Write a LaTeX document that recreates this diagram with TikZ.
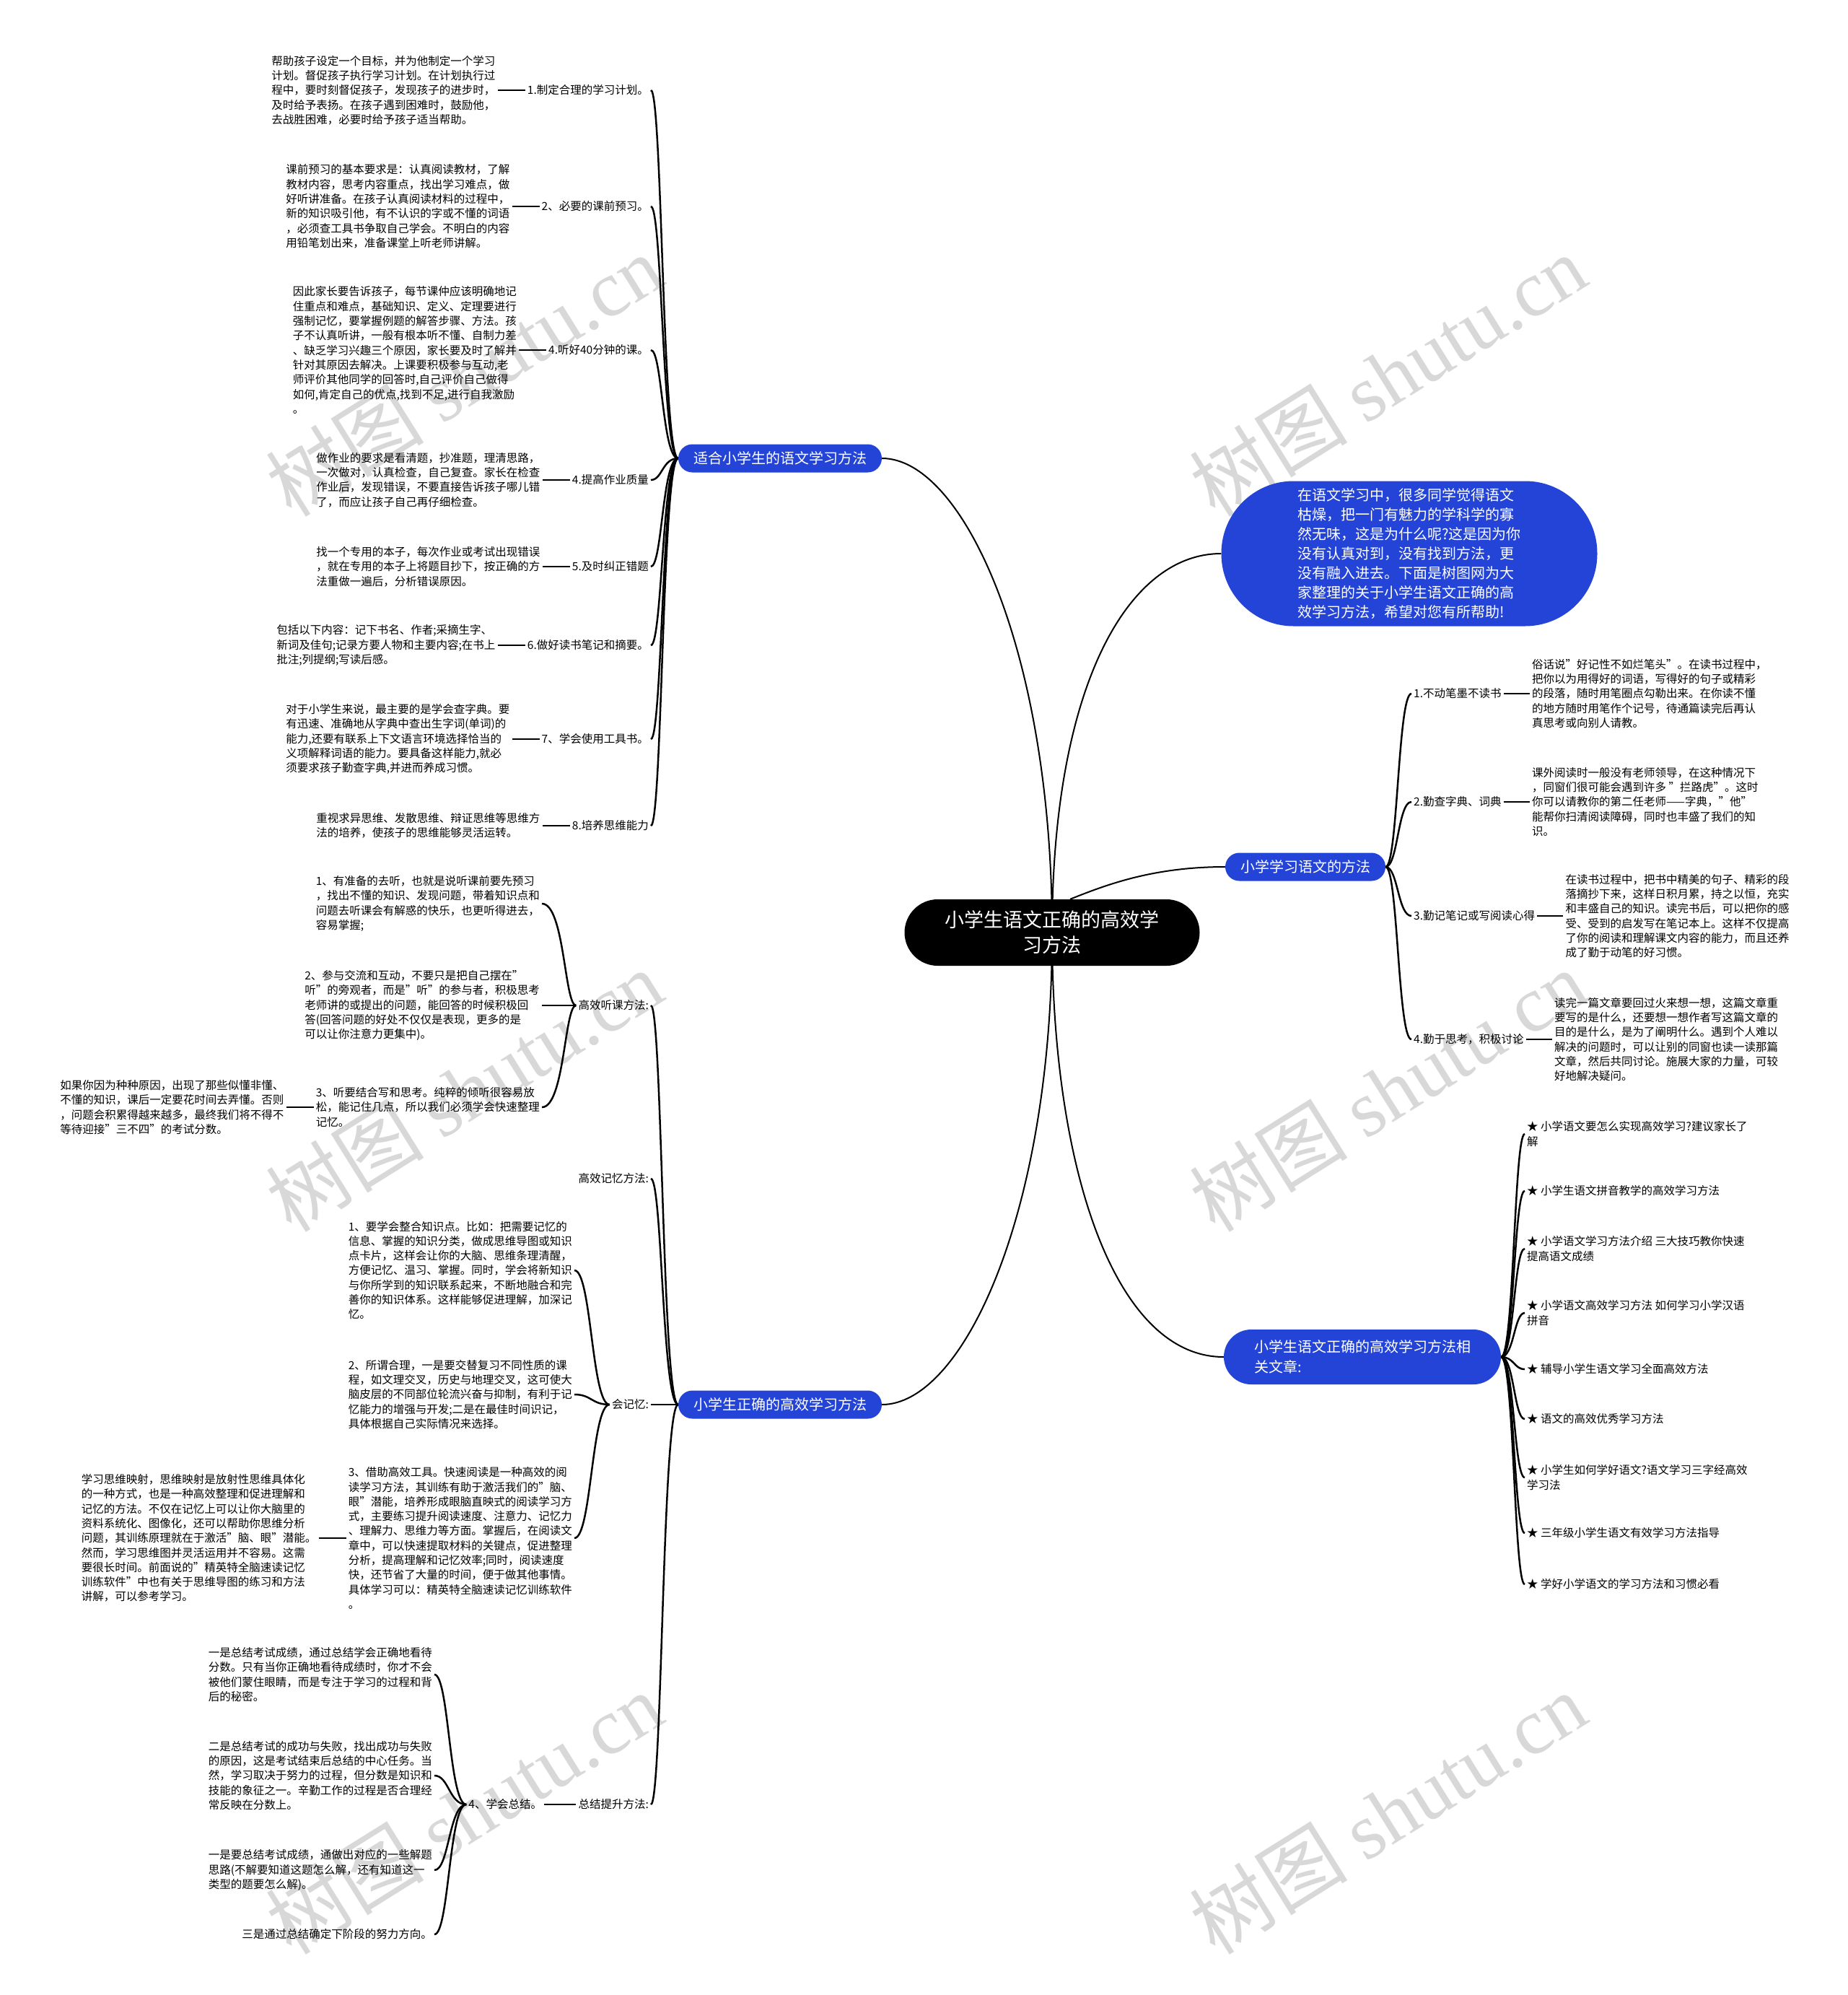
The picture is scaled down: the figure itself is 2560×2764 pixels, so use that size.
\documentclass[tikz,border=0pt]{standalone}
\usepackage{fontspec}
\setmainfont{Noto Sans CJK SC}
\newfontfamily\wmserif{Liberation Serif}
\usetikzlibrary{positioning,backgrounds,calc}
\definecolor{mapblue}{RGB}{36,68,216}
\definecolor{wmgray}{RGB}{216,216,216}
\tikzset{
  desc/.style={align=left,inner sep=3pt,font=\fontsize{15.5}{20.3}\selectfont},
  lbl/.style={inner sep=3pt,font=\fontsize{15.5}{20.3}\selectfont},
  branch/.style={fill=mapblue,text=white,rounded corners=19.5pt,minimum height=39pt,inner xsep=21pt,font=\fontsize{20}{26}\selectfont},
  root/.style={fill=black,text=white,rounded corners=46pt,minimum width=409pt,minimum height=92pt,align=center,font=\fontsize{27}{35}\selectfont},
  intro/.style={fill=mapblue,text=white,rounded corners=100pt,minimum width=521pt,minimum height=201pt,align=left,font=\fontsize{20}{27}\selectfont},
  conn/.style={line width=2.5pt},
  rootln/.style={line width=2pt},
  tie/.style={line width=2.5pt},
  wm/.style={text=wmgray,rotate=32,font=\fontsize{110}{120}\selectfont},
}
\begin{document}
\begin{tikzpicture}[x=1pt,y=-1pt]
\useasboundingbox (0,0) rectangle (2560,2764);

% centre et branches
\node[root] (root) at (1458,1292) {小学生语文正确的高效学\\习方法};
\node[branch] (l1) at (1081,635) {适合小学生的语文学习方法};
\node[branch] (l2) at (1081,1946) {小学生正确的高效学习方法};
\node[intro] (intro) at (1953,767) {在语文学习中，很多同学觉得语文\\枯燥，把一门有魅力的学科学的寡\\然无味，这是为什么呢?这是因为你\\没有认真对到，没有找到方法，更\\没有融入进去。下面是树图网为大\\家整理的关于小学生语文正确的高\\效学习方法，希望对您有所帮助!};
\node[branch] (r1) at (1809,1201) {小学学习语文的方法};
\node[branch,align=left,rounded corners=38pt,minimum width=384pt,minimum height=76pt,font=\fontsize{20}{28}\selectfont] (r2) at (1888,1880) {小学生语文正确的高效学习方法相\\关文章:};

% branche l1
\node[lbl,anchor=east] (t1) at (902,125) {1.制定合理的学习计划。};
\node[desc,left=38pt of t1] (d1) {帮助孩子设定一个目标，并为他制定一个学习\\计划。督促孩子执行学习计划。在计划执行过\\程中，要时刻督促孩子，发现孩子的进步时，\\及时给予表扬。在孩子遇到困难时，鼓励他，\\去战胜困难，必要时给予孩子适当帮助。};
\node[lbl,anchor=east] (t2) at (902,286) {2、必要的课前预习。};
\node[desc,left=38pt of t2] (d2) {课前预习的基本要求是：认真阅读教材，了解\\教材内容，思考内容重点，找出学习难点，做\\好听讲准备。在孩子认真阅读材料的过程中，\\新的知识吸引他，有不认识的字或不懂的词语\\，必须查工具书争取自己学会。不明白的内容\\用铅笔划出来，准备课堂上听老师讲解。};
\node[lbl,anchor=east] (t3) at (902,485) {4.听好40分钟的课。};
\node[desc,left=38pt of t3] (d3) {因此家长要告诉孩子，每节课仲应该明确地记\\住重点和难点，基础知识、定义、定理要进行\\强制记忆，要掌握例题的解答步骤、方法。孩\\子不认真听讲，一般有根本听不懂、自制力差\\、缺乏学习兴趣三个原因，家长要及时了解并\\针对其原因去解决。上课要积极参与互动,老\\师评价其他同学的回答时,自己评价自己做得\\如何,肯定自己的优点,找到不足,进行自我激励\\。};
\node[lbl,anchor=east] (t4) at (902,665) {4.提高作业质量};
\node[desc,left=38pt of t4] (d4) {做作业的要求是看清题，抄准题，理清思路，\\一次做对，认真检查，自己复查。家长在检查\\作业后，发现错误，不要直接告诉孩子哪儿错\\了，而应让孩子自己再仔细检查。};
\node[lbl,anchor=east] (t5) at (902,785) {5.及时纠正错题};
\node[desc,left=38pt of t5] (d5) {找一个专用的本子，每次作业或考试出现错误\\，就在专用的本子上将题目抄下，按正确的方\\法重做一遍后，分析错误原因。};
\node[lbl,anchor=east] (t6) at (902,894) {6.做好读书笔记和摘要。};
\node[desc,left=38pt of t6] (d6) {包括以下内容：记下书名、作者;采摘生字、\\新词及佳句;记录方要人物和主要内容;在书上\\批注;列提纲;写读后感。};
\node[lbl,anchor=east] (t7) at (902,1024) {7、学会使用工具书。};
\node[desc,left=38pt of t7] (d7) {对于小学生来说，最主要的是学会查字典。要\\有迅速、准确地从字典中查出生字词(单词)的\\能力,还要有联系上下文语言环境选择恰当的\\义项解释词语的能力。要具备这样能力,就必\\须要求孩子勤查字典,并进而养成习惯。};
\node[lbl,anchor=east] (t8) at (902,1144) {8.培养思维能力};
\node[desc,left=38pt of t8] (d8) {重视求异思维、发散思维、辩证思维等思维方\\法的培养，使孩子的思维能够灵活运转。};

% branche l2
\node[lbl,anchor=east] (h1) at (902,1393) {高效听课方法:};
\node[lbl,anchor=east] (h2) at (902,1633) {高效记忆方法:};
\node[lbl,anchor=east] (h3) at (902,1946) {会记忆:};
\node[lbl,anchor=east] (h4) at (902,2500) {总结提升方法:};
\node[desc,anchor=east] (a1) at (751,1252) {1、有准备的去听，也就是说听课前要先预习\\，找出不懂的知识、发现问题，带着知识点和\\问题去听课会有解惑的快乐，也更听得进去，\\容易掌握;};
\node[desc,anchor=east] (a2) at (751,1393) {2、参与交流和互动，不要只是把自己摆在"\\听"的旁观者，而是"听"的参与者，积极思考\\老师讲的或提出的问题，能回答的时候积极回\\答(回答问题的好处不仅仅是表现，更多的是\\可以让你注意力更集中)。};
\node[desc,anchor=east] (a3) at (751,1534) {3、听要结合写和思考。纯粹的倾听很容易放\\松，能记住几点，所以我们必须学会快速整理\\记忆。};
\node[desc,left=38pt of a3] (a4) {如果你因为种种原因，出现了那些似懂非懂、\\不懂的知识，课后一定要花时间去弄懂。否则\\，问题会积累得越来越多，最终我们将不得不\\等待迎接"三不四"的考试分数。};
\node[desc,anchor=east] (m1) at (796,1760) {1、要学会整合知识点。比如：把需要记忆的\\信息、掌握的知识分类，做成思维导图或知识\\点卡片，这样会让你的大脑、思维条理清醒，\\方便记忆、温习、掌握。同时，学会将新知识\\与你所学到的知识联系起来，不断地融合和完\\善你的知识体系。这样能够促进理解，加深记\\忆。};
\node[desc,anchor=east] (m2) at (796,1932) {2、所谓合理，一是要交替复习不同性质的课\\程，如文理交叉，历史与地理交叉，这可使大\\脑皮层的不同部位轮流兴奋与抑制，有利于记\\忆能力的增强与开发;二是在最佳时间识记，\\具体根据自己实际情况来选择。};
\node[desc,anchor=east] (m3) at (796,2131) {3、借助高效工具。快速阅读是一种高效的阅\\读学习方法，其训练有助于激活我们的"脑、\\眼"潜能，培养形成眼脑直映式的阅读学习方\\式，主要练习提升阅读速度、注意力、记忆力\\、理解力、思维力等方面。掌握后，在阅读文\\章中，可以快速提取材料的关键点，促进整理\\分析，提高理解和记忆效率;同时，阅读速度\\快，还节省了大量的时间，便于做其他事情。\\具体学习可以：精英特全脑速读记忆训练软件\\。};
\node[desc,left=38pt of m3] (m4) {学习思维映射，思维映射是放射性思维具体化\\的一种方式，也是一种高效整理和促进理解和\\记忆的方法。不仅在记忆上可以让你大脑里的\\资料系统化、图像化，还可以帮助你思维分析\\问题，其训练原理就在于激活"脑、眼"潜能。\\然而，学习思维图并灵活运用并不容易。这需\\要很长时间。前面说的"精英特全脑速读记忆\\训练软件"中也有关于思维导图的练习和方法\\讲解，可以参考学习。};
\node[lbl,left=44pt of h4] (g) {4、学会总结。};
\node[desc,anchor=east] (s1) at (602,2320) {一是总结考试成绩，通过总结学会正确地看待\\分数。只有当你正确地看待成绩时，你才不会\\被他们蒙住眼睛，而是专注于学习的过程和背\\后的秘密。};
\node[desc,anchor=east] (s2) at (602,2460) {二是总结考试的成功与失败，找出成功与失败\\的原因，这是考试结束后总结的中心任务。当\\然，学习取决于努力的过程，但分数是知识和\\技能的象征之一。辛勤工作的过程是否合理经\\常反映在分数上。};
\node[desc,anchor=east] (s3) at (602,2591) {一是要总结考试成绩，通做出对应的一些解题\\思路(不解要知道这题怎么解，还有知道这一\\类型的题要怎么解)。};
\node[desc,anchor=east] (s4) at (602,2680) {三是通过总结确定下阶段的努力方向。};

% branche r1
\node[lbl,anchor=west] (p1) at (1956,961) {1.不动笔墨不读书};
\node[desc,right=36pt of p1] (q1) {俗话说"好记性不如烂笔头"。在读书过程中，\\把你以为用得好的词语，写得好的句子或精彩\\的段落，随时用笔圈点勾勒出来。在你读不懂\\的地方随时用笔作个记号，待通篇读完后再认\\真思考或向别人请教。};
\node[lbl,anchor=west] (p2) at (1956,1111) {2.勤查字典、词典};
\node[desc,right=36pt of p2] (q2) {课外阅读时一般没有老师领导，在这种情况下\\，同窗们很可能会遇到许多 "拦路虎"。这时\\你可以请教你的第二任老师——字典，"他"\\能帮你扫清阅读障碍，同时也丰盛了我们的知\\识。};
\node[lbl,anchor=west] (p3) at (1956,1269) {3.勤记笔记或写阅读心得};
\node[desc,right=36pt of p3] (q3) {在读书过程中，把书中精美的句子、精彩的段\\落摘抄下来，这样日积月累，持之以恒，充实\\和丰盛自己的知识。读完书后，可以把你的感\\受、受到的启发写在笔记本上。这样不仅提高\\了你的阅读和理解课文内容的能力，而且还养\\成了勤于动笔的好习惯。};
\node[lbl,anchor=west] (p4) at (1956,1440) {4.勤于思考，积极讨论};
\node[desc,right=36pt of p4] (q4) {读完一篇文章要回过火来想一想，这篇文章重\\要写的是什么，还要想一想作者写这篇文章的\\目的是什么，是为了阐明什么。遇到个人难以\\解决的问题时，可以让别的同窗也读一读那篇\\文章，然后共同讨论。施展大家的力量，可较\\好地解决疑问。};

% branche r2
\node[desc,anchor=west] (k1) at (2113,1571) {★ 小学语文要怎么实现高效学习?建议家长了\\解};
\node[desc,anchor=west] (k2) at (2113,1650) {★ 小学生语文拼音教学的高效学习方法};
\node[desc,anchor=west] (k3) at (2113,1730) {★ 小学语文学习方法介绍 三大技巧教你快速\\提高语文成绩};
\node[desc,anchor=west] (k4) at (2113,1819) {★ 小学语文高效学习方法 如何学习小学汉语\\拼音};
\node[desc,anchor=west] (k5) at (2113,1897) {★ 辅导小学生语文学习全面高效方法};
\node[desc,anchor=west] (k6) at (2113,1966) {★ 语文的高效优秀学习方法};
\node[desc,anchor=west] (k7) at (2113,2047) {★ 小学生如何学好语文?语文学习三字经高效\\学习法};
\node[desc,anchor=west] (k8) at (2113,2124) {★ 三年级小学生语文有效学习方法指导};
\node[desc,anchor=west] (k9) at (2113,2195) {★ 学好小学语文的学习方法和习惯必看};

\begin{scope}[on background layer]
  \fill[white] (0,0) rectangle (2560,2764);
  \foreach \wx in {643,1923}
    \foreach \wy in {520,1511,2512}
      \node[wm] at (\wx,\wy) {树图 {\wmserif shutu.cn}};
\end{scope}

\begin{scope}[on background layer]
  % liens du centre
  \draw[rootln] (root.center) .. controls ($(root.center)+(0,-390)$) and ($(l1.east)+(112,0)$) .. (l1.east);
  \draw[rootln] (root.center) .. controls ($(root.center)+(0,390)$) and ($(l2.east)+(112,0)$) .. (l2.east);
  \draw[rootln] (root.center) .. controls ($(root.center)+(0,-340)$) and ($(intro.west)+(-130,0)$) .. (intro.west);
  \draw[rootln] ([xshift=25pt]root.north) .. controls ($(root.north)+(75,-20)$) and ($(r1.west)+(-100,0)$) .. (r1.west);
  \draw[rootln] (root.center) .. controls ($(root.center)+(0,330)$) and ($(r2.west)+(-150,0)$) .. (r2.west);
  % accolades
  \coordinate (v1) at ([xshift=-22pt]l1.west);
  \foreach \i in {1,...,8}{
    \draw[conn] (l1.west) .. controls (v1) and (v1 |- t\i.east) .. (t\i.east);
    \draw[tie] (d\i) -- (t\i);}
  \coordinate (v2) at ([xshift=-22pt]l2.west);
  \foreach \i in {1,...,4}
    \draw[conn] (l2.west) .. controls (v2) and (v2 |- h\i.east) .. (h\i.east);
  \coordinate (v3) at ([xshift=-16pt]h1.west);
  \foreach \i in {1,...,3}
    \draw[conn] (h1.west) .. controls (v3) and (v3 |- a\i.east) .. (a\i.east);
  \draw[tie] (a4) -- (a3);
  \coordinate (v4) at ([xshift=-25pt]h3.west);
  \foreach \i in {1,...,3}
    \draw[conn] (h3.west) .. controls (v4) and (v4 |- m\i.east) .. (m\i.east);
  \draw[tie] (m4) -- (m3);
  \draw[tie] (g) -- (h4);
  \coordinate (v5) at ([xshift=-24pt]g.west);
  \foreach \i in {1,...,4}
    \draw[conn] (g.west) .. controls (v5) and (v5 |- s\i.east) .. (s\i.east);
  \coordinate (w1) at ([xshift=17pt]r1.east);
  \foreach \i in {1,...,4}{
    \draw[conn] (r1.east) .. controls (w1) and (w1 |- p\i.west) .. (p\i.west);
    \draw[tie] (p\i) -- (q\i);}
  \coordinate (w2) at ([xshift=18pt]r2.east);
  \foreach \i in {1,...,9}
    \draw[conn] (r2.east) .. controls (w2) and (w2 |- k\i.west) .. (k\i.west);
\end{scope}
\end{tikzpicture}
\end{document}
